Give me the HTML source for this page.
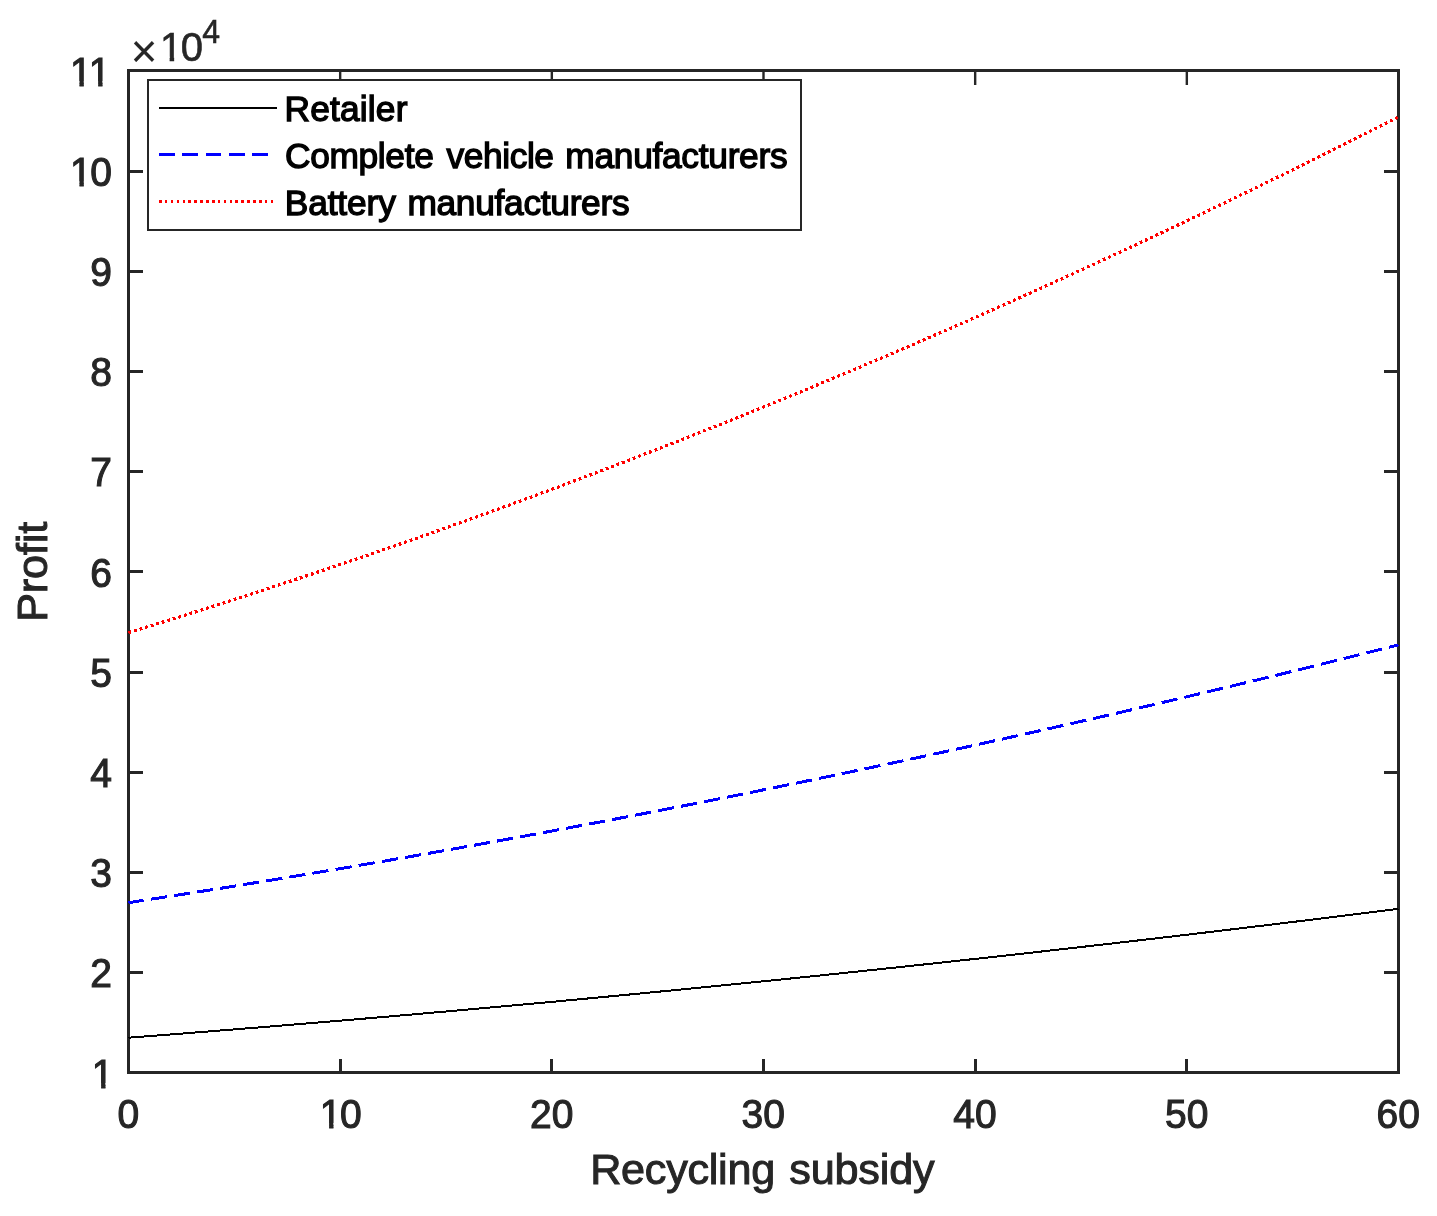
<!DOCTYPE html>
<html lang="en"><head><meta charset="utf-8"><title>Profit vs Recycling subsidy</title>
<style>html,body{margin:0;padding:0;background:#fff}body{width:1437px;height:1216px;overflow:hidden}svg{display:block}text{font-family:"Liberation Sans",Arial,Helvetica,sans-serif}.t{font-size:40px;fill:#262626;stroke:#262626;stroke-width:1.1px}.e{stroke-width:.6px}.l{font-size:43.2px;fill:#262626;stroke:#262626;stroke-width:1px}.g{font-size:35.3px;fill:#000;stroke:#000;stroke-width:1.35px}</style></head><body>
<svg width="1437" height="1216" viewBox="0 0 1437 1216">
<defs><clipPath id="c1"><path d="M-2 -40.00H28.00V-4.40H14.04V2.00H9.56V-4.40H-2Z"/></clipPath></defs>
<rect width="1437" height="1216" fill="#fff"/>
<path d="M340.5 1072.5v-13.5M551.5 1072.5v-13.5M763.5 1072.5v-13.5M975.5 1072.5v-13.5M1186.5 1072.5v-13.5M128.5 972.5h14.5M1398.5 972.5h-14.5M128.5 872.5h14.5M1398.5 872.5h-14.5M128.5 772.5h14.5M1398.5 772.5h-14.5M128.5 672.5h14.5M1398.5 672.5h-14.5M128.5 571.5h14.5M1398.5 571.5h-14.5M128.5 471.5h14.5M1398.5 471.5h-14.5M128.5 371.5h14.5M1398.5 371.5h-14.5M128.5 271.5h14.5M1398.5 271.5h-14.5M128.5 171.5h14.5M1398.5 171.5h-14.5" fill="none" stroke="#262626" stroke-width="3"/>
<path d="M340.17 70.5v14.5M551.83 70.5v14.5M763.50 70.5v14.5M975.17 70.5v14.5M1186.83 70.5v14.5" fill="none" stroke="#262626" stroke-width="2.4"/>
<rect x="128.5" y="70.5" width="1270" height="1002" fill="none" stroke="#262626" stroke-width="3"/>
<path d="M128.50 1037.68 L133.79 1037.28 L139.08 1036.87 L144.38 1036.47 L149.67 1036.06 L154.96 1035.65 L160.25 1035.24 L165.54 1034.83 L170.83 1034.42 L176.12 1034.01 L181.42 1033.60 L186.71 1033.18 L192.00 1032.76 L197.29 1032.35 L202.58 1031.93 L207.88 1031.51 L213.17 1031.09 L218.46 1030.67 L223.75 1030.24 L229.04 1029.82 L234.33 1029.40 L239.62 1028.97 L244.92 1028.54 L250.21 1028.11 L255.50 1027.68 L260.79 1027.25 L266.08 1026.82 L271.38 1026.39 L276.67 1025.96 L281.96 1025.52 L287.25 1025.09 L292.54 1024.65 L297.83 1024.21 L303.12 1023.77 L308.42 1023.33 L313.71 1022.89 L319.00 1022.44 L324.29 1022.00 L329.58 1021.56 L334.88 1021.11 L340.17 1020.66 L345.46 1020.21 L350.75 1019.76 L356.04 1019.31 L361.33 1018.86 L366.62 1018.41 L371.92 1017.96 L377.21 1017.50 L382.50 1017.04 L387.79 1016.59 L393.08 1016.13 L398.38 1015.67 L403.67 1015.21 L408.96 1014.75 L414.25 1014.28 L419.54 1013.82 L424.83 1013.35 L430.12 1012.89 L435.42 1012.42 L440.71 1011.95 L446.00 1011.48 L451.29 1011.01 L456.58 1010.54 L461.88 1010.07 L467.17 1009.59 L472.46 1009.12 L477.75 1008.64 L483.04 1008.16 L488.33 1007.69 L493.62 1007.21 L498.92 1006.73 L504.21 1006.24 L509.50 1005.76 L514.79 1005.28 L520.08 1004.79 L525.38 1004.31 L530.67 1003.82 L535.96 1003.33 L541.25 1002.84 L546.54 1002.35 L551.83 1001.86 L557.12 1001.36 L562.42 1000.87 L567.71 1000.37 L573.00 999.88 L578.29 999.38 L583.58 998.88 L588.88 998.38 L594.17 997.88 L599.46 997.38 L604.75 996.88 L610.04 996.37 L615.33 995.87 L620.62 995.36 L625.92 994.85 L631.21 994.34 L636.50 993.84 L641.79 993.32 L647.08 992.81 L652.38 992.30 L657.67 991.79 L662.96 991.27 L668.25 990.75 L673.54 990.24 L678.83 989.72 L684.12 989.20 L689.42 988.68 L694.71 988.15 L700.00 987.63 L705.29 987.11 L710.58 986.58 L715.88 986.06 L721.17 985.53 L726.46 985.00 L731.75 984.47 L737.04 983.94 L742.33 983.41 L747.62 982.87 L752.92 982.34 L758.21 981.80 L763.50 981.27 L768.79 980.73 L774.08 980.19 L779.38 979.65 L784.67 979.11 L789.96 978.57 L795.25 978.02 L800.54 977.48 L805.83 976.93 L811.12 976.39 L816.42 975.84 L821.71 975.29 L827.00 974.74 L832.29 974.19 L837.58 973.64 L842.88 973.09 L848.17 972.53 L853.46 971.98 L858.75 971.42 L864.04 970.86 L869.33 970.30 L874.62 969.74 L879.92 969.18 L885.21 968.62 L890.50 968.06 L895.79 967.49 L901.08 966.93 L906.38 966.36 L911.67 965.79 L916.96 965.22 L922.25 964.65 L927.54 964.08 L932.83 963.51 L938.12 962.94 L943.42 962.36 L948.71 961.79 L954.00 961.21 L959.29 960.63 L964.58 960.05 L969.88 959.47 L975.17 958.89 L980.46 958.31 L985.75 957.73 L991.04 957.14 L996.33 956.56 L1001.62 955.97 L1006.92 955.38 L1012.21 954.79 L1017.50 954.20 L1022.79 953.61 L1028.08 953.02 L1033.38 952.42 L1038.67 951.83 L1043.96 951.23 L1049.25 950.64 L1054.54 950.04 L1059.83 949.44 L1065.12 948.84 L1070.42 948.24 L1075.71 947.64 L1081.00 947.03 L1086.29 946.43 L1091.58 945.82 L1096.88 945.22 L1102.17 944.61 L1107.46 944.00 L1112.75 943.39 L1118.04 942.78 L1123.33 942.17 L1128.62 941.55 L1133.92 940.94 L1139.21 940.32 L1144.50 939.71 L1149.79 939.09 L1155.08 938.47 L1160.38 937.85 L1165.67 937.23 L1170.96 936.60 L1176.25 935.98 L1181.54 935.36 L1186.83 934.73 L1192.12 934.10 L1197.42 933.48 L1202.71 932.85 L1208.00 932.22 L1213.29 931.58 L1218.58 930.95 L1223.88 930.32 L1229.17 929.68 L1234.46 929.05 L1239.75 928.41 L1245.04 927.77 L1250.33 927.13 L1255.62 926.49 L1260.92 925.85 L1266.21 925.21 L1271.50 924.57 L1276.79 923.92 L1282.08 923.28 L1287.38 922.63 L1292.67 921.98 L1297.96 921.33 L1303.25 920.68 L1308.54 920.03 L1313.83 919.38 L1319.12 918.72 L1324.42 918.07 L1329.71 917.41 L1335.00 916.76 L1340.29 916.10 L1345.58 915.44 L1350.88 914.78 L1356.17 914.12 L1361.46 913.45 L1366.75 912.79 L1372.04 912.13 L1377.33 911.46 L1382.62 910.79 L1387.92 910.12 L1393.21 909.45 L1398.50 908.78" fill="none" stroke="#000" stroke-width="2" shape-rendering="crispEdges"/>
<path d="M128.50 902.67 L133.79 901.86 L139.08 901.05 L144.38 900.24 L149.67 899.42 L154.96 898.61 L160.25 897.79 L165.54 896.97 L170.83 896.14 L176.12 895.32 L181.42 894.49 L186.71 893.66 L192.00 892.83 L197.29 891.99 L202.58 891.16 L207.88 890.32 L213.17 889.48 L218.46 888.63 L223.75 887.79 L229.04 886.94 L234.33 886.09 L239.62 885.24 L244.92 884.39 L250.21 883.53 L255.50 882.67 L260.79 881.81 L266.08 880.95 L271.38 880.08 L276.67 879.21 L281.96 878.34 L287.25 877.47 L292.54 876.60 L297.83 875.72 L303.12 874.84 L308.42 873.96 L313.71 873.08 L319.00 872.19 L324.29 871.30 L329.58 870.41 L334.88 869.52 L340.17 868.63 L345.46 867.73 L350.75 866.83 L356.04 865.93 L361.33 865.02 L366.62 864.12 L371.92 863.21 L377.21 862.30 L382.50 861.39 L387.79 860.47 L393.08 859.56 L398.38 858.64 L403.67 857.72 L408.96 856.79 L414.25 855.87 L419.54 854.94 L424.83 854.01 L430.12 853.08 L435.42 852.14 L440.71 851.21 L446.00 850.27 L451.29 849.32 L456.58 848.38 L461.88 847.44 L467.17 846.49 L472.46 845.54 L477.75 844.58 L483.04 843.63 L488.33 842.67 L493.62 841.71 L498.92 840.75 L504.21 839.79 L509.50 838.82 L514.79 837.85 L520.08 836.88 L525.38 835.91 L530.67 834.94 L535.96 833.96 L541.25 832.98 L546.54 832.00 L551.83 831.01 L557.12 830.03 L562.42 829.04 L567.71 828.05 L573.00 827.06 L578.29 826.06 L583.58 825.06 L588.88 824.07 L594.17 823.06 L599.46 822.06 L604.75 821.05 L610.04 820.05 L615.33 819.03 L620.62 818.02 L625.92 817.01 L631.21 815.99 L636.50 814.97 L641.79 813.95 L647.08 812.92 L652.38 811.90 L657.67 810.87 L662.96 809.84 L668.25 808.81 L673.54 807.77 L678.83 806.73 L684.12 805.69 L689.42 804.65 L694.71 803.61 L700.00 802.56 L705.29 801.51 L710.58 800.46 L715.88 799.41 L721.17 798.36 L726.46 797.30 L731.75 796.24 L737.04 795.18 L742.33 794.11 L747.62 793.05 L752.92 791.98 L758.21 790.91 L763.50 789.83 L768.79 788.76 L774.08 787.68 L779.38 786.60 L784.67 785.52 L789.96 784.43 L795.25 783.35 L800.54 782.26 L805.83 781.17 L811.12 780.08 L816.42 778.98 L821.71 777.88 L827.00 776.78 L832.29 775.68 L837.58 774.58 L842.88 773.47 L848.17 772.36 L853.46 771.25 L858.75 770.14 L864.04 769.02 L869.33 767.90 L874.62 766.78 L879.92 765.66 L885.21 764.54 L890.50 763.41 L895.79 762.28 L901.08 761.15 L906.38 760.02 L911.67 758.88 L916.96 757.74 L922.25 756.60 L927.54 755.46 L932.83 754.32 L938.12 753.17 L943.42 752.02 L948.71 750.87 L954.00 749.72 L959.29 748.56 L964.58 747.40 L969.88 746.24 L975.17 745.08 L980.46 743.92 L985.75 742.75 L991.04 741.58 L996.33 740.41 L1001.62 739.24 L1006.92 738.06 L1012.21 736.88 L1017.50 735.70 L1022.79 734.52 L1028.08 733.34 L1033.38 732.15 L1038.67 730.96 L1043.96 729.77 L1049.25 728.58 L1054.54 727.38 L1059.83 726.18 L1065.12 724.98 L1070.42 723.78 L1075.71 722.57 L1081.00 721.37 L1086.29 720.16 L1091.58 718.95 L1096.88 717.73 L1102.17 716.52 L1107.46 715.30 L1112.75 714.08 L1118.04 712.86 L1123.33 711.63 L1128.62 710.41 L1133.92 709.18 L1139.21 707.94 L1144.50 706.71 L1149.79 705.47 L1155.08 704.24 L1160.38 703.00 L1165.67 701.75 L1170.96 700.51 L1176.25 699.26 L1181.54 698.01 L1186.83 696.76 L1192.12 695.51 L1197.42 694.25 L1202.71 692.99 L1208.00 691.73 L1213.29 690.47 L1218.58 689.20 L1223.88 687.94 L1229.17 686.67 L1234.46 685.40 L1239.75 684.12 L1245.04 682.85 L1250.33 681.57 L1255.62 680.29 L1260.92 679.00 L1266.21 677.72 L1271.50 676.43 L1276.79 675.14 L1282.08 673.85 L1287.38 672.56 L1292.67 671.26 L1297.96 669.96 L1303.25 668.66 L1308.54 667.36 L1313.83 666.05 L1319.12 664.75 L1324.42 663.44 L1329.71 662.13 L1335.00 660.81 L1340.29 659.50 L1345.58 658.18 L1350.88 656.86 L1356.17 655.53 L1361.46 654.21 L1366.75 652.88 L1372.04 651.55 L1377.33 650.22 L1382.62 648.88 L1387.92 647.55 L1393.21 646.21 L1398.50 644.87" fill="none" stroke="#00f" stroke-width="3" stroke-dasharray="16.279 7.134" stroke-dashoffset="1" shape-rendering="crispEdges"/>
<path d="M128.50 632.63 L133.79 631.02 L139.08 629.40 L144.38 627.77 L149.67 626.14 L154.96 624.51 L160.25 622.87 L165.54 621.23 L170.83 619.59 L176.12 617.94 L181.42 616.28 L186.71 614.62 L192.00 612.96 L197.29 611.29 L202.58 609.62 L207.88 607.94 L213.17 606.26 L218.46 604.57 L223.75 602.88 L229.04 601.18 L234.33 599.48 L239.62 597.78 L244.92 596.07 L250.21 594.36 L255.50 592.64 L260.79 590.92 L266.08 589.19 L271.38 587.46 L276.67 585.72 L281.96 583.98 L287.25 582.24 L292.54 580.49 L297.83 578.74 L303.12 576.98 L308.42 575.22 L313.71 573.45 L319.00 571.68 L324.29 569.90 L329.58 568.12 L334.88 566.34 L340.17 564.55 L345.46 562.76 L350.75 560.96 L356.04 559.16 L361.33 557.35 L366.62 555.54 L371.92 553.72 L377.21 551.90 L382.50 550.08 L387.79 548.25 L393.08 546.41 L398.38 544.58 L403.67 542.73 L408.96 540.89 L414.25 539.04 L419.54 537.18 L424.83 535.32 L430.12 533.45 L435.42 531.58 L440.71 529.71 L446.00 527.83 L451.29 525.95 L456.58 524.06 L461.88 522.17 L467.17 520.27 L472.46 518.37 L477.75 516.47 L483.04 514.56 L488.33 512.65 L493.62 510.73 L498.92 508.80 L504.21 506.88 L509.50 504.94 L514.79 503.01 L520.08 501.07 L525.38 499.12 L530.67 497.17 L535.96 495.22 L541.25 493.26 L546.54 491.30 L551.83 489.33 L557.12 487.36 L562.42 485.38 L567.71 483.40 L573.00 481.41 L578.29 479.42 L583.58 477.43 L588.88 475.43 L594.17 473.43 L599.46 471.42 L604.75 469.41 L610.04 467.39 L615.33 465.37 L620.62 463.34 L625.92 461.31 L631.21 459.28 L636.50 457.24 L641.79 455.20 L647.08 453.15 L652.38 451.10 L657.67 449.04 L662.96 446.98 L668.25 444.91 L673.54 442.84 L678.83 440.77 L684.12 438.69 L689.42 436.61 L694.71 434.52 L700.00 432.43 L705.29 430.33 L710.58 428.23 L715.88 426.12 L721.17 424.01 L726.46 421.90 L731.75 419.78 L737.04 417.65 L742.33 415.52 L747.62 413.39 L752.92 411.25 L758.21 409.11 L763.50 406.97 L768.79 404.82 L774.08 402.66 L779.38 400.50 L784.67 398.34 L789.96 396.17 L795.25 394.00 L800.54 391.82 L805.83 389.64 L811.12 387.45 L816.42 385.26 L821.71 383.07 L827.00 380.87 L832.29 378.66 L837.58 376.45 L842.88 374.24 L848.17 372.02 L853.46 369.80 L858.75 367.57 L864.04 365.34 L869.33 363.11 L874.62 360.87 L879.92 358.62 L885.21 356.38 L890.50 354.12 L895.79 351.86 L901.08 349.60 L906.38 347.34 L911.67 345.06 L916.96 342.79 L922.25 340.51 L927.54 338.22 L932.83 335.94 L938.12 333.64 L943.42 331.34 L948.71 329.04 L954.00 326.74 L959.29 324.42 L964.58 322.11 L969.88 319.79 L975.17 317.46 L980.46 315.14 L985.75 312.80 L991.04 310.46 L996.33 308.12 L1001.62 305.77 L1006.92 303.42 L1012.21 301.07 L1017.50 298.71 L1022.79 296.34 L1028.08 293.97 L1033.38 291.60 L1038.67 289.22 L1043.96 286.84 L1049.25 284.45 L1054.54 282.06 L1059.83 279.66 L1065.12 277.26 L1070.42 274.86 L1075.71 272.45 L1081.00 270.04 L1086.29 267.62 L1091.58 265.19 L1096.88 262.77 L1102.17 260.34 L1107.46 257.90 L1112.75 255.46 L1118.04 253.01 L1123.33 250.56 L1128.62 248.11 L1133.92 245.65 L1139.21 243.19 L1144.50 240.72 L1149.79 238.25 L1155.08 235.77 L1160.38 233.29 L1165.67 230.81 L1170.96 228.32 L1176.25 225.82 L1181.54 223.32 L1186.83 220.82 L1192.12 218.31 L1197.42 215.80 L1202.71 213.29 L1208.00 210.76 L1213.29 208.24 L1218.58 205.71 L1223.88 203.17 L1229.17 200.64 L1234.46 198.09 L1239.75 195.55 L1245.04 192.99 L1250.33 190.44 L1255.62 187.88 L1260.92 185.31 L1266.21 182.74 L1271.50 180.16 L1276.79 177.59 L1282.08 175.00 L1287.38 172.41 L1292.67 169.82 L1297.96 167.23 L1303.25 164.62 L1308.54 162.02 L1313.83 159.41 L1319.12 156.79 L1324.42 154.17 L1329.71 151.55 L1335.00 148.92 L1340.29 146.29 L1345.58 143.65 L1350.88 141.01 L1356.17 138.37 L1361.46 135.72 L1366.75 133.06 L1372.04 130.40 L1377.33 127.74 L1382.62 125.07 L1387.92 122.40 L1393.21 119.72 L1398.50 117.04" fill="none" stroke="#f00" stroke-width="3.2" stroke-dasharray="2.85 2.95" shape-rendering="crispEdges"/>
<text class="t" transform="translate(117.46 1127.50) scale(0.975 1)">0</text>
<g transform="translate(319.78 1127.50) scale(0.975 1)" clip-path="url(#c1)"><text class="t">1</text></g><text class="t" transform="translate(339.97 1127.50) scale(0.975 1)">0</text>
<text class="t" transform="translate(529.94 1127.50) scale(0.975 1)">20</text>
<text class="t" transform="translate(741.61 1127.50) scale(0.975 1)">30</text>
<text class="t" transform="translate(953.28 1127.50) scale(0.975 1)">40</text>
<text class="t" transform="translate(1164.94 1127.50) scale(0.975 1)">50</text>
<text class="t" transform="translate(1376.61 1127.50) scale(0.975 1)">60</text>
<g transform="translate(91.81 1087.50) scale(0.975 1)" clip-path="url(#c1)"><text class="t">1</text></g>
<text class="t" transform="translate(90.31 987.30) scale(0.975 1)">2</text>
<text class="t" transform="translate(90.31 887.10) scale(0.975 1)">3</text>
<text class="t" transform="translate(90.31 786.90) scale(0.975 1)">4</text>
<text class="t" transform="translate(90.31 686.70) scale(0.975 1)">5</text>
<text class="t" transform="translate(90.31 586.50) scale(0.975 1)">6</text>
<text class="t" transform="translate(90.31 486.30) scale(0.975 1)">7</text>
<text class="t" transform="translate(90.31 386.10) scale(0.975 1)">8</text>
<text class="t" transform="translate(90.31 285.90) scale(0.975 1)">9</text>
<g transform="translate(70.12 185.70) scale(0.975 1)" clip-path="url(#c1)"><text class="t">1</text></g><text class="t" transform="translate(90.31 185.70) scale(0.975 1)">0</text>
<g transform="translate(70.12 85.50) scale(0.975 1)" clip-path="url(#c1)"><text class="t">1</text></g><g transform="translate(88.84 85.50) scale(0.975 1)" clip-path="url(#c1)"><text class="t">1</text></g>
<text class="t" transform="translate(130.7 66.7)" style="font-size:45.5px;stroke-width:.15px">×</text>
<g transform="translate(160.10 61.20) scale(1 1)" clip-path="url(#c1)"><text class="t e">1</text></g><text class="t e" transform="translate(180.85 61.20) scale(1 1)">0</text>
<text class="t e" transform="translate(202.3 42.7) scale(1 1.035)" style="font-size:32px">4</text>
<text class="l" y="1183.70"><tspan x="590.20" textLength="185">Recycling</tspan> <tspan x="789.20" textLength="145.5">subsidy</tspan></text>
<text class="l" transform="translate(46.8 571.8) rotate(-90) scale(1 1)" text-anchor="middle" textLength="100">Profit</text>
<rect x="148" y="80" width="653" height="150" fill="#fff" stroke="#262626" stroke-width="2"/>
<path d="M159 108H277" stroke="#000" stroke-width="2" fill="none" shape-rendering="crispEdges"/>
<path d="M159 154.5H268.2" stroke="#00f" stroke-width="3" stroke-dasharray="15.6 7.7" fill="none" shape-rendering="crispEdges"/>
<path d="M159 201.5H272.9" stroke="#f00" stroke-width="3" stroke-dasharray="2.6 3.28" fill="none" shape-rendering="crispEdges"/>
<text class="g" y="121.20"><tspan x="284.60" textLength="122.8">Retailer</tspan></text>
<text class="g" y="167.85"><tspan x="285.00" textLength="148.8">Complete</tspan> <tspan x="446.50" textLength="107.5">vehicle</tspan> <tspan x="565.30" textLength="222.3">manufacturers</tspan></text>
<text class="g" y="214.50"><tspan x="284.80" textLength="111">Battery</tspan> <tspan x="407.40" textLength="222.2">manufacturers</tspan></text>
</svg></body></html>
